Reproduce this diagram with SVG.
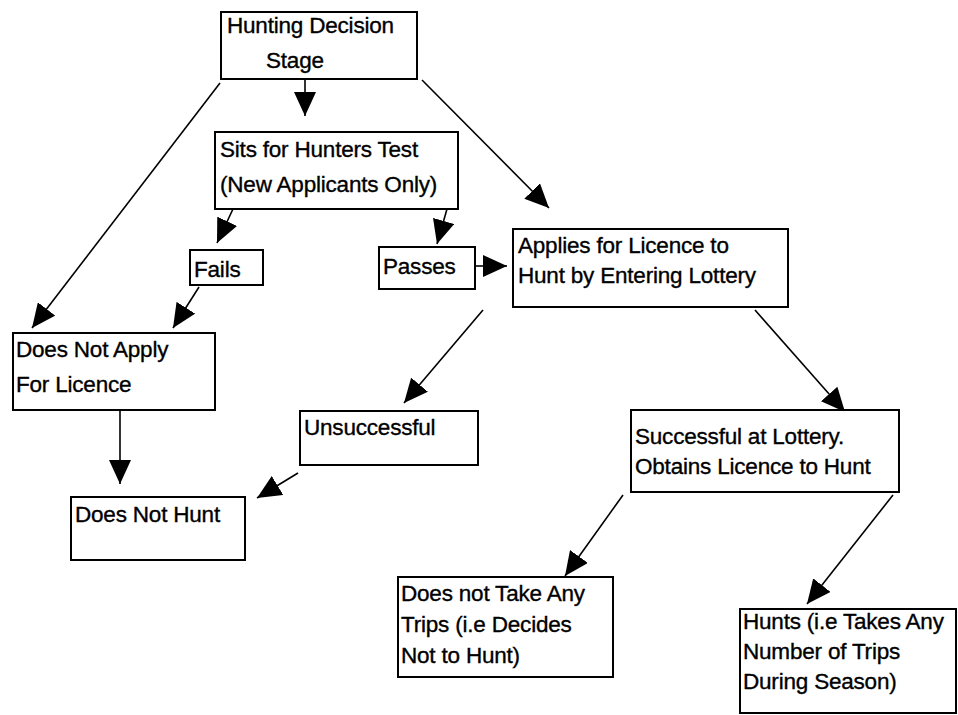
<svg xmlns="http://www.w3.org/2000/svg" width="958" height="715" viewBox="0 0 958 715">
<style>
.box{fill:#fff;stroke:#000;stroke-width:2}
.t{font-family:"Liberation Sans",Arial,sans-serif;font-size:22.5px;fill:#000;stroke:#000;stroke-width:0.35px;letter-spacing:-0.2px}
.c{stroke:#000;stroke-width:1.6;fill:none;marker-end:url(#ah)}
</style>
<defs>
<marker id="ah" viewBox="0 0 24 22" refX="24" refY="11" markerWidth="24" markerHeight="22" markerUnits="userSpaceOnUse" orient="auto">
<path d="M0,0 L24,11 L0,22 z" fill="#000"/>
</marker>
</defs>
<rect width="958" height="715" fill="#fff"/>
<g id="connectors">
<line class="c" x1="305" y1="80" x2="305" y2="116"/>
<line class="c" x1="220" y1="83" x2="32" y2="328"/>
<line class="c" x1="422" y1="80" x2="549" y2="208"/>
<line class="c" x1="233" y1="209" x2="217" y2="243"/>
<line class="c" x1="447" y1="209" x2="437" y2="244"/>
<line class="c" x1="476" y1="266" x2="507" y2="266"/>
<line class="c" x1="199" y1="287" x2="173" y2="328"/>
<line class="c" x1="120" y1="410" x2="120" y2="484"/>
<line class="c" x1="483" y1="310" x2="404" y2="403"/>
<line class="c" x1="298" y1="473" x2="257" y2="498"/>
<line class="c" x1="755" y1="310" x2="845" y2="412"/>
<line class="c" x1="623" y1="495" x2="565" y2="576"/>
<line class="c" x1="893" y1="495" x2="807" y2="604"/>
</g>
<g id="n-decision"><rect class="box" x="221" y="12" width="196" height="67"/><text class="t" x="227" y="33">Hunting Decision</text><text class="t" x="266" y="68">Stage</text></g>
<g id="n-sits"><rect class="box" x="215" y="132" width="243" height="77"/><text class="t" x="220" y="157">Sits for Hunters Test</text><text class="t" x="220" y="192">(New Applicants Only)</text></g>
<g id="n-fails"><rect class="box" x="190" y="250" width="73" height="35"/><text class="t" x="194" y="277">Fails</text></g>
<g id="n-passes"><rect class="box" x="379" y="247" width="96" height="42"/><text class="t" x="383" y="274">Passes</text></g>
<g id="n-applies"><rect class="box" x="513" y="229" width="275" height="78"/><text class="t" x="518" y="253">Applies for Licence to</text><text class="t" x="518" y="283">Hunt by Entering Lottery</text></g>
<g id="n-notapply"><rect class="box" x="13" y="333" width="202" height="77"/><text class="t" x="16" y="357">Does Not Apply</text><text class="t" x="16" y="392">For Licence</text></g>
<g id="n-unsuccessful"><rect class="box" x="300" y="411" width="178" height="54"/><text class="t" x="304" y="435">Unsuccessful</text></g>
<g id="n-nothunt"><rect class="box" x="71" y="497" width="174" height="63"/><text class="t" x="75" y="522">Does Not Hunt</text></g>
<g id="n-successful"><rect class="box" x="631" y="410" width="268" height="82"/><text class="t" x="635" y="444">Successful at Lottery.</text><text class="t" x="635" y="474">Obtains Licence to Hunt</text></g>
<g id="n-notrips"><rect class="box" x="398" y="577" width="215" height="100"/><text class="t" x="401" y="601">Does not Take Any</text><text class="t" x="401" y="632">Trips (i.e Decides</text><text class="t" x="401" y="663">Not to Hunt)</text></g>
<g id="n-hunts"><rect class="box" x="740" y="609" width="216" height="104"/><text class="t" x="743" y="629">Hunts (i.e Takes Any</text><text class="t" x="743" y="659">Number of Trips</text><text class="t" x="743" y="689">During Season)</text></g>
</svg>
